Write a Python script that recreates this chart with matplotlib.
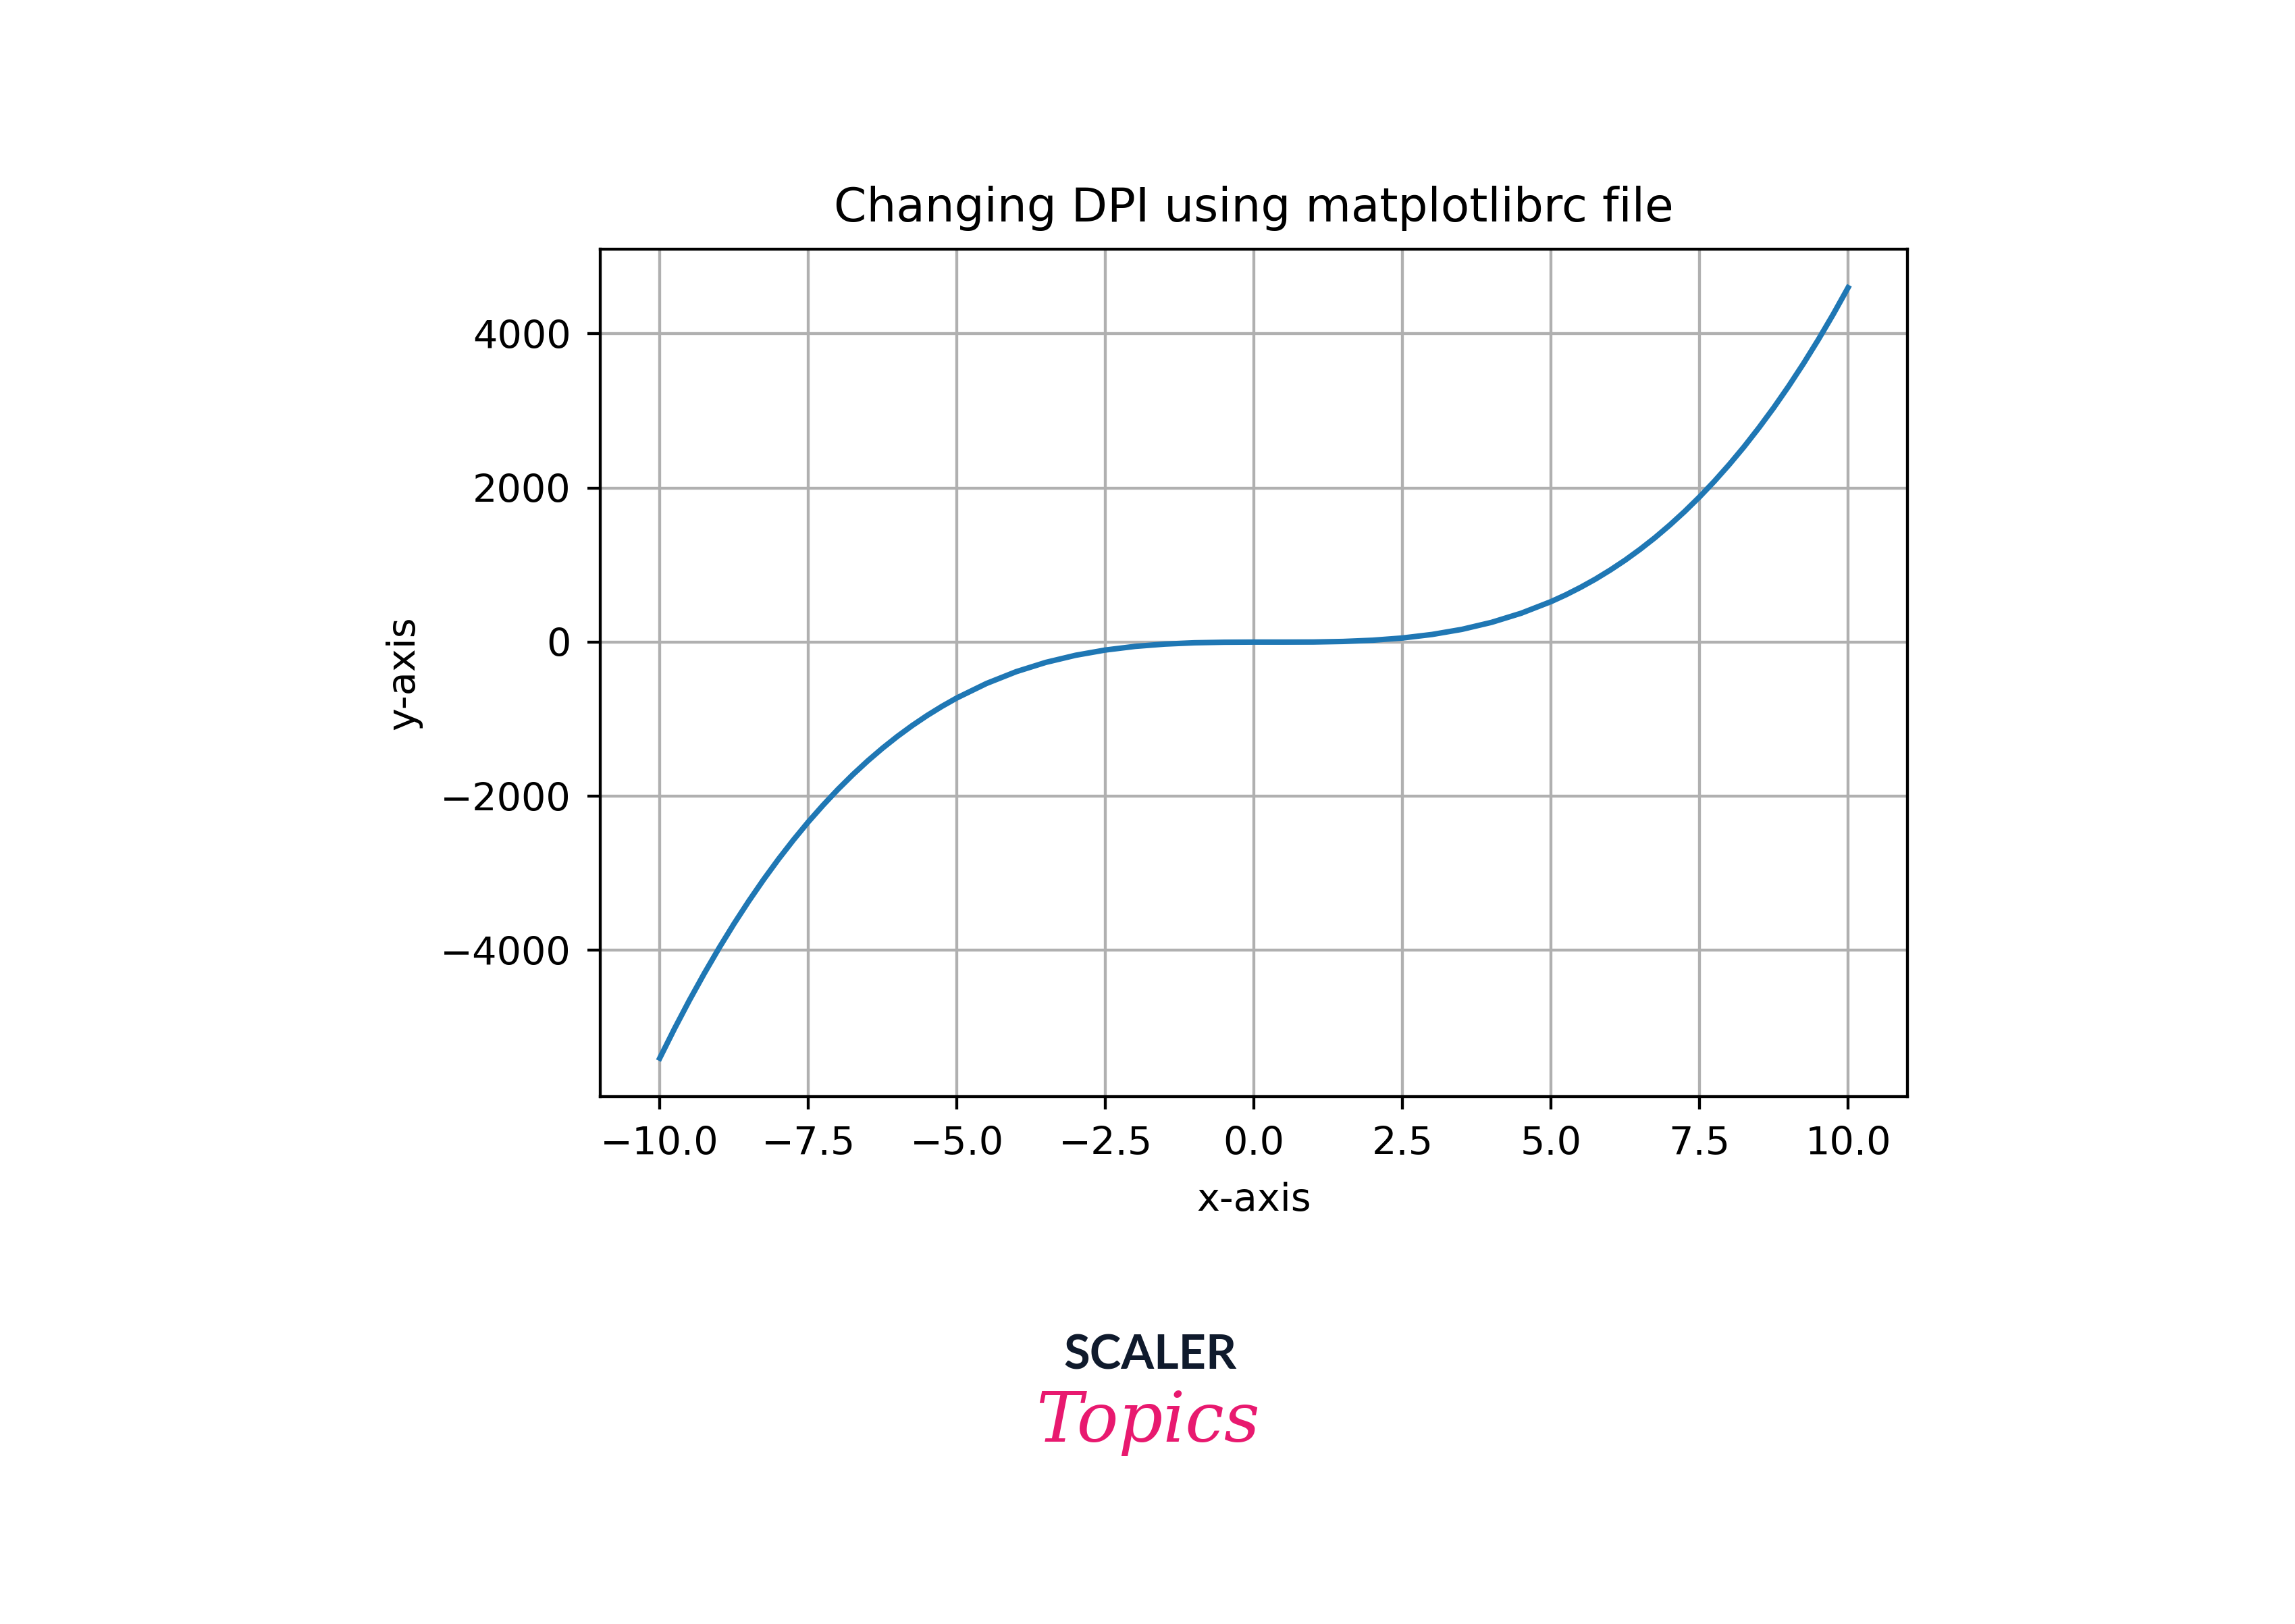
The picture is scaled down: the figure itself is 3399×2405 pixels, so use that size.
import matplotlib
matplotlib.use("Agg")
import matplotlib.pyplot as plt

# values (denser where the curve is steep)
x_vals = [-10.0, -9.75, -9.5, -9.25, -9.0, -8.75, -8.5, -8.25, -8.0, -7.75,
          -7.5, -7.25, -7.0, -6.75, -6.5, -6.25, -6.0, -5.75, -5.5, -5.25,
          -5.0, -4.5, -4.0, -3.5, -3.0, -2.5, -2.0, -1.5, -1.0, -0.5, 0.0,
          0.5, 1.0, 1.5, 2.0, 2.5, 3.0, 3.5, 4.0, 4.5, 5.0,
          5.25, 5.5, 5.75, 6.0, 6.25, 6.5, 6.75, 7.0, 7.25, 7.5,
          7.75, 8.0, 8.25, 8.5, 8.75, 9.0, 9.25, 9.5, 9.75, 10.0]
y_vals = [-5400, -5015, -4648, -4300, -3969, -3656, -3360, -3080, -2816, -2568,
          -2334, -2116, -1911, -1720, -1542, -1377, -1224, -1083, -953, -834,
          -725, -537, -384, -263, -171, -103, -56, -26, -9, -2, 0,
          0, 1, 8, 24, 53, 99, 165, 256, 375, 525,
          613, 711, 818, 936, 1064, 1204, 1355, 1519, 1695, 1884,
          2087, 2304, 2535, 2782, 3043, 3321, 3615, 3926, 4254, 4600]

TITLE = "Changing DPI using matplotlibrc file"
X_LABEL = "x-axis"
Y_LABEL = "y-axis"

DPI = 390
plt.rcParams["font.size"] = 10.6
fig = plt.figure(figsize=(3400 / DPI, 2405 / DPI), dpi=DPI)
ax = fig.add_axes([0.2615, 0.3247, 0.5694, 0.5219])

ax.plot(x_vals, y_vals, color="#1f77b4", linewidth=1.5)
ax.grid(True)
ax.set_title(TITLE, fontsize=12.8, pad=7.5)
ax.set_xlabel(X_LABEL, labelpad=5)
ax.set_ylabel(Y_LABEL, labelpad=5)
ax.tick_params(pad=4.5)

# logo underneath the chart
fig.text(0.501, 0.1655, "SCALER", ha="center", va="center", color="#0f1a2c",
         fontsize=13, fontweight="bold", family="Lato")
fig.text(0.500, 0.124, "Topics", ha="center", va="center", color="#e8196f",
         fontsize=19, style="italic", family="DejaVu Serif")

fig.savefig("out.png", dpi=DPI, facecolor="white")
